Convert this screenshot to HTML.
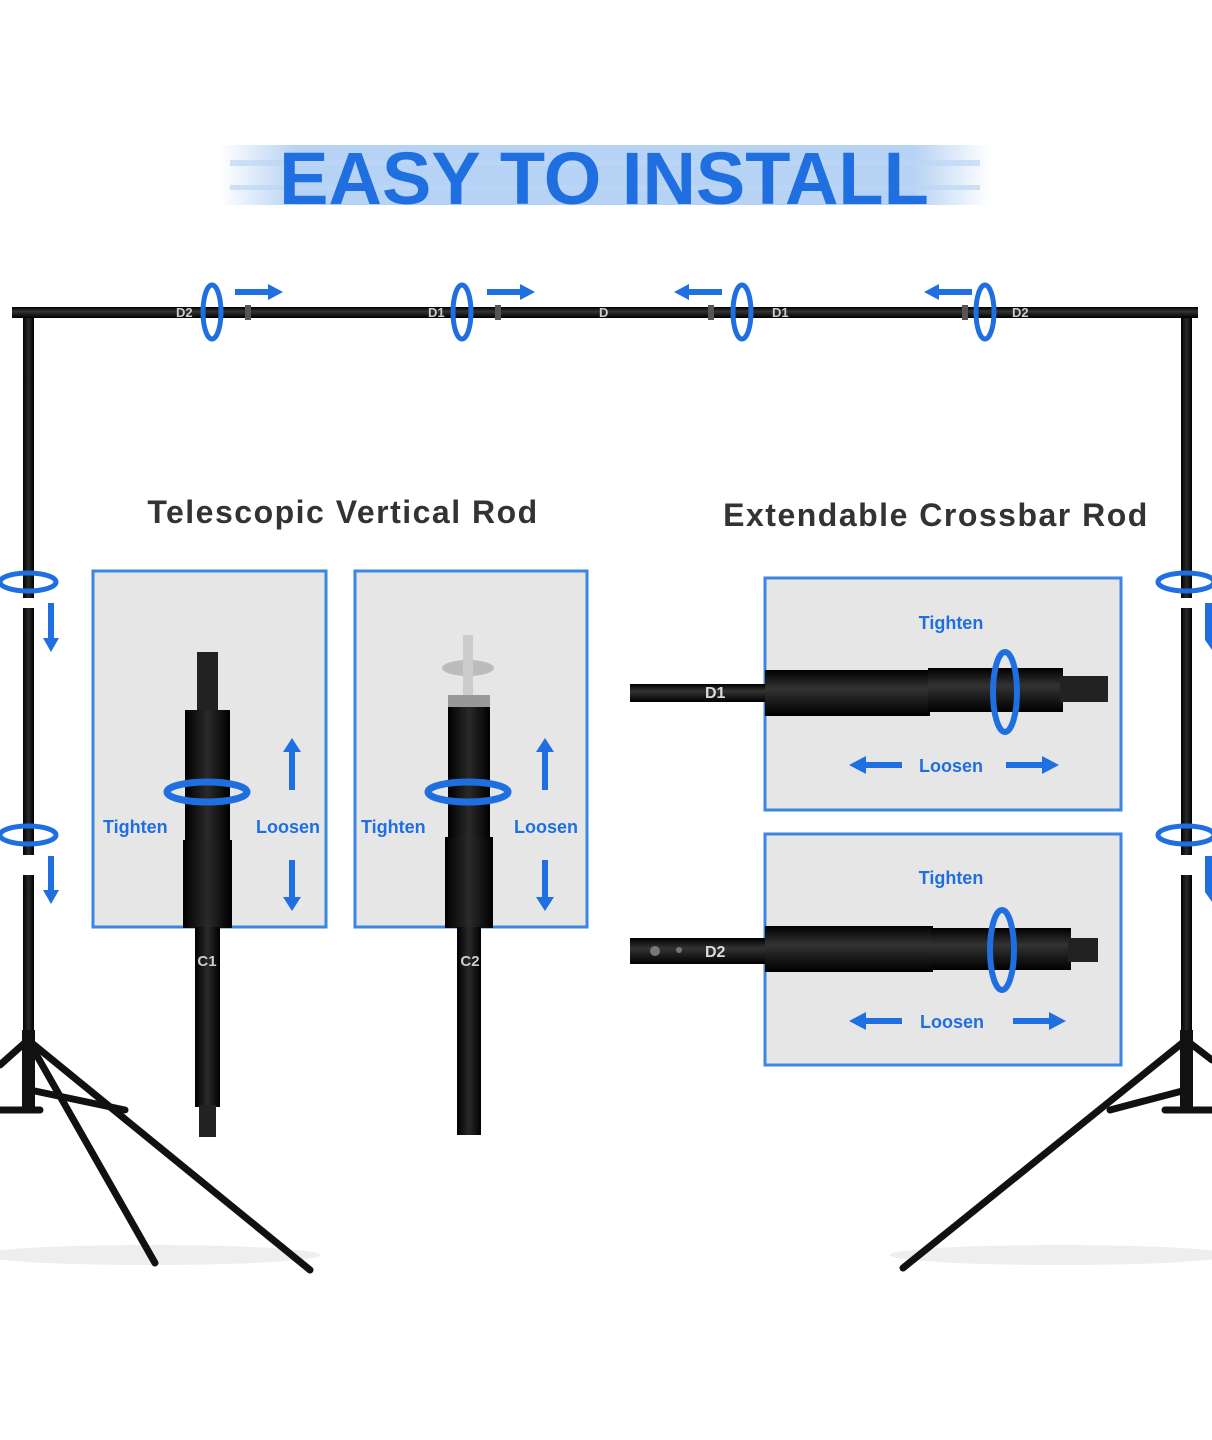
<!DOCTYPE html>
<html><head><meta charset="utf-8"><style>
html,body{margin:0;padding:0;background:#fff;width:1212px;height:1440px;overflow:hidden}
svg{display:block}
text{font-family:"Liberation Sans","DejaVu Sans",sans-serif}
</style></head><body>
<svg width="1212" height="1440" viewBox="0 0 1212 1440" xmlns="http://www.w3.org/2000/svg">
<defs>
<linearGradient id="blur" x1="0" x2="1" y1="0" y2="0">
<stop offset="0" stop-color="#2f7fe0" stop-opacity="0"/>
<stop offset="0.1" stop-color="#2f7fe0" stop-opacity="0.35"/>
<stop offset="0.9" stop-color="#2f7fe0" stop-opacity="0.35"/>
<stop offset="1" stop-color="#2f7fe0" stop-opacity="0"/>
</linearGradient>
<linearGradient id="rodv" x1="0" x2="1"><stop offset="0" stop-color="#000"/><stop offset="0.5" stop-color="#2a2a2a"/><stop offset="1" stop-color="#000"/></linearGradient>
<linearGradient id="rodh" x1="0" x2="0" y1="0" y2="1"><stop offset="0" stop-color="#000"/><stop offset="0.4" stop-color="#333"/><stop offset="1" stop-color="#000"/></linearGradient>
</defs>
<!-- title -->
<rect x="220" y="145" width="770" height="60" fill="url(#blur)"/>
<rect x="230" y="160" width="750" height="6" fill="#bcd6f5" opacity="0.7"/>
<rect x="230" y="185" width="750" height="5" fill="#bcd6f5" opacity="0.7"/>
<text x="604" y="204" text-anchor="middle" font-size="74" font-weight="bold" fill="#1f6fe0">EASY TO INSTALL</text>

<!-- floor shadows -->
<ellipse cx="150" cy="1255" rx="170" ry="10" fill="#eee"/>
<ellipse cx="1060" cy="1255" rx="170" ry="10" fill="#eee"/>

<!-- crossbar -->
<rect x="12" y="307" width="1186" height="11" fill="url(#rodh)"/>
<g fill="#555"><rect x="245" y="305" width="6" height="15"/><rect x="495" y="305" width="6" height="15"/><rect x="708" y="305" width="6" height="15"/><rect x="962" y="305" width="6" height="15"/></g>
<g font-size="13" font-weight="bold" fill="#ccc">
<text x="176" y="317">D2</text><text x="428" y="317">D1</text><text x="599" y="317">D</text><text x="772" y="317">D1</text><text x="1012" y="317">D2</text></g>
<g fill="none" stroke="#1f6fe0" stroke-width="5">
<ellipse cx="212" cy="312" rx="9" ry="27"/><ellipse cx="462" cy="312" rx="9" ry="27"/><ellipse cx="742" cy="312" rx="9" ry="27"/><ellipse cx="985" cy="312" rx="9" ry="27"/></g>
<g fill="#1f6fe0">
<polygon points="235,289 268,289 268,284 283,292 268,300 268,295 235,295"/>
<polygon points="487,289 520,289 520,284 535,292 520,300 520,295 487,295"/>
<polygon points="722,289 689,289 689,284 674,292 689,300 689,295 722,295"/>
<polygon points="972,289 939,289 939,284 924,292 939,300 939,295 972,295"/>
</g>

<!-- vertical poles -->
<rect x="23" y="318" width="11" height="720" fill="url(#rodv)"/>
<rect x="1181" y="318" width="11" height="720" fill="url(#rodv)"/>
<g fill="#fff"><rect x="20" y="598" width="18" height="10"/><rect x="20" y="855" width="18" height="20"/><rect x="1178" y="598" width="18" height="10"/><rect x="1178" y="855" width="18" height="20"/></g>
<g fill="none" stroke="#1f6fe0" stroke-width="5">
<ellipse cx="28" cy="582" rx="28" ry="9"/><ellipse cx="28" cy="835" rx="28" ry="9"/>
<ellipse cx="1186" cy="582" rx="28" ry="9"/><ellipse cx="1186" cy="835" rx="28" ry="9"/></g>
<g fill="#1f6fe0">
<polygon points="48,603 54,603 54,638 59,638 51,652 43,638 48,638"/>
<polygon points="48,856 54,856 54,890 59,890 51,904 43,890 48,890"/>
<polygon points="1205,603 1212,603 1212,650 1205,640"/>
<polygon points="1205,856 1212,856 1212,902 1205,892"/>
</g>

<!-- tripods -->
<g stroke="#111" stroke-width="7" stroke-linecap="round">
<line x1="28" y1="1040" x2="155" y2="1263"/><line x1="28" y1="1040" x2="310" y2="1270"/>
<line x1="28" y1="1040" x2="0" y2="1065"/><line x1="30" y1="1090" x2="125" y2="1110"/><line x1="0" y1="1110" x2="40" y2="1110"/>
<line x1="1186" y1="1040" x2="903" y2="1268"/><line x1="1186" y1="1040" x2="1212" y2="1060"/>
<line x1="1186" y1="1090" x2="1110" y2="1110"/><line x1="1165" y1="1110" x2="1212" y2="1110"/>
</g>
<rect x="22" y="1030" width="13" height="80" fill="#111"/>
<rect x="1180" y="1030" width="13" height="80" fill="#111"/>

<!-- headings -->
<text x="343" y="523" text-anchor="middle" font-size="32" font-weight="bold" fill="#333" letter-spacing="1.5">Telescopic Vertical Rod</text>
<text x="936" y="526" text-anchor="middle" font-size="32" font-weight="bold" fill="#333" letter-spacing="1.5">Extendable Crossbar Rod</text>

<!-- boxes -->
<g fill="#e6e6e6" stroke="#3a86e0" stroke-width="3">
<rect x="93" y="571" width="233" height="356"/><rect x="355" y="571" width="232" height="356"/>
<rect x="765" y="578" width="356" height="232"/><rect x="765" y="834" width="356" height="231"/></g>

<!-- box1 rod -->
<rect x="197" y="652" width="21" height="60" fill="#222"/>
<rect x="185" y="710" width="45" height="130" fill="url(#rodv)"/>
<rect x="183" y="840" width="49" height="88" fill="url(#rodv)"/>
<rect x="195" y="927" width="25" height="180" fill="url(#rodv)"/>
<rect x="199" y="1105" width="17" height="32" fill="#222"/>
<text x="207" y="966" text-anchor="middle" font-size="15" font-weight="bold" fill="#ccc">C1</text>
<!-- box2 rod -->
<ellipse cx="468" cy="668" rx="26" ry="8" fill="#bbb"/><rect x="463" y="635" width="10" height="60" fill="#ccc"/>
<rect x="448" y="695" width="42" height="12" fill="#999"/>
<rect x="448" y="707" width="42" height="130" fill="url(#rodv)"/>
<rect x="445" y="837" width="48" height="91" fill="url(#rodv)"/>
<rect x="457" y="927" width="24" height="208" fill="url(#rodv)"/>
<text x="470" y="966" text-anchor="middle" font-size="15" font-weight="bold" fill="#ccc">C2</text>
<!-- rings box1/2 -->
<g fill="none" stroke="#1f6fe0" stroke-width="7">
<ellipse cx="207" cy="792" rx="40" ry="10"/><ellipse cx="468" cy="792" rx="40" ry="10"/></g>
<g font-size="18" font-weight="bold" fill="#1f6fe0">
<text x="103" y="833">Tighten</text><text x="256" y="833">Loosen</text>
<text x="361" y="833">Tighten</text><text x="514" y="833">Loosen</text></g>
<g fill="#1f6fe0">
<polygon points="289,790 295,790 295,752 301,752 292,738 283,752 289,752"/>
<polygon points="289,860 295,860 295,897 301,897 292,911 283,897 289,897"/>
<polygon points="542,790 548,790 548,752 554,752 545,738 536,752 542,752"/>
<polygon points="542,860 548,860 548,897 554,897 545,911 536,897 542,897"/>
</g>

<!-- box3 rod -->
<rect x="630" y="684" width="136" height="18" fill="url(#rodh)"/>
<rect x="765" y="670" width="165" height="46" fill="url(#rodh)"/>
<rect x="928" y="668" width="135" height="44" fill="url(#rodh)"/>
<rect x="1060" y="676" width="48" height="26" fill="#222"/>
<text x="705" y="698" font-size="16" font-weight="bold" fill="#ddd">D1</text>
<ellipse cx="1005" cy="692" rx="12" ry="40" fill="none" stroke="#1f6fe0" stroke-width="6"/>
<!-- box4 rod -->
<rect x="630" y="938" width="136" height="26" fill="url(#rodh)"/>
<circle cx="655" cy="951" r="5" fill="#777"/><circle cx="679" cy="950" r="3" fill="#777"/>
<rect x="765" y="926" width="168" height="46" fill="url(#rodh)"/>
<rect x="931" y="928" width="140" height="42" fill="url(#rodh)"/>
<rect x="1068" y="938" width="30" height="24" fill="#222"/>
<text x="705" y="957" font-size="16" font-weight="bold" fill="#ddd">D2</text>
<ellipse cx="1002" cy="950" rx="12" ry="40" fill="none" stroke="#1f6fe0" stroke-width="6"/>
<g font-size="18" font-weight="bold" fill="#1f6fe0">
<text x="951" y="629" text-anchor="middle">Tighten</text><text x="951" y="772" text-anchor="middle">Loosen</text>
<text x="951" y="884" text-anchor="middle">Tighten</text><text x="952" y="1028" text-anchor="middle">Loosen</text></g>
<g fill="#1f6fe0">
<polygon points="902,762 866,762 866,756 849,765 866,774 866,768 902,768"/>
<polygon points="1006,762 1042,762 1042,756 1059,765 1042,774 1042,768 1006,768"/>
<polygon points="902,1018 866,1018 866,1012 849,1021 866,1030 866,1024 902,1024"/>
<polygon points="1013,1018 1049,1018 1049,1012 1066,1021 1049,1030 1049,1024 1013,1024"/>
</g>
</svg>
</body></html>
